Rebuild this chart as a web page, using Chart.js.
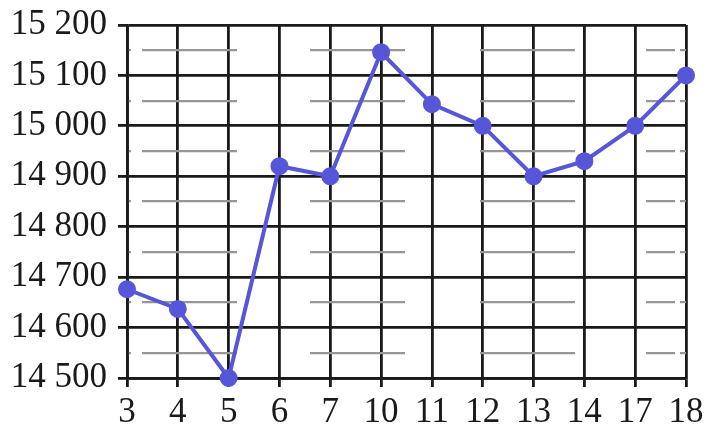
<!DOCTYPE html>
<html>
<head>
<meta charset="utf-8">
<script src="https://cdn.jsdelivr.net/npm/chart.js@4"></script>
<style>
  html, body { margin: 0; padding: 0; background: #fff; }
  #wrap { width: 714px; height: 438px; }
</style>
</head>
<body>
<div id="wrap"><canvas id="chart"></canvas></div>
<script>
const categories = ['3', '4', '5', '6', '7', '10', '11', '12', '13', '14', '17', '18'];
const values = [14676, 14637, 14500, 14920, 14900, 15146, 15043, 15000, 14900, 14930, 15000, 15100];
const yMin = 14500;
const yMax = 15200;

const ink = '#1a1a1a';
const lineColor = '#5656d9';
const family = "'Liberation Serif', serif";

// thousands separated by a space, like "15 200"
const fmt = v => String(v).replace(/\B(?=(\d{3})+(?!\d))/g, ' ');

new Chart(document.getElementById('chart'), {
  type: 'line',
  data: {
    labels: categories,
    datasets: [{
      data: values,
      borderColor: lineColor,
      backgroundColor: lineColor,
      borderWidth: 4,
      pointRadius: 7,
      pointHoverRadius: 7,
      tension: 0,
      clip: false
    }]
  },
  options: {
    responsive: true,
    maintainAspectRatio: false,
    animation: false,
    layout: { padding: { top: 21, right: 28 } },
    plugins: { legend: { display: false }, tooltip: { enabled: false } },
    scales: {
      x: {
        type: 'category',
        offset: false,
        grid: { color: ink, lineWidth: 2.8, tickLength: 9, tickColor: ink },
        border: { color: ink, width: 2.8 },
        ticks: { color: ink, font: { family: family, size: 35 }, padding: 5, maxRotation: 0 },
        afterFit: s => { s.height = 60; }
      },
      y: {
        min: yMin,
        max: yMax,
        grid: { color: ink, lineWidth: 2.8, tickLength: 9, tickColor: ink },
        border: { color: ink, width: 2.8 },
        ticks: {
          stepSize: 100, color: ink, padding: 11,
          font: { family: family, size: 35, lineHeight: 0.8 },
          callback: v => fmt(v)
        },
        afterFit: s => { s.width = 127; }
      },
      yMinor: {
        position: 'left',
        min: yMin,
        max: yMax,
        grid: {
          z: -1,
          lineWidth: 2.2,
          drawTicks: false,
          color: c => (c.tick && c.tick.value % 100 !== 0) ? '#969696' : 'rgba(0,0,0,0)'
        },
        border: {
          display: false,
          dash: c => c.tick ? [4, 11, 95, 73, 95, 75, 95, 71, 29, 5, 10] : []
        },
        ticks: { display: false, stepSize: 50 },
        afterFit: s => { s.width = 0; }
      }
    }
  }
});
</script>
</body>
</html>
